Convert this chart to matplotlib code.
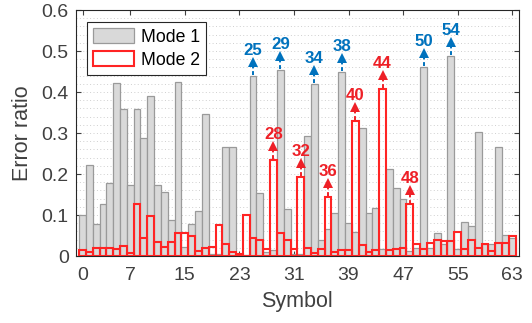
import numpy as np
import matplotlib.pyplot as plt

plt.rcParams['font.family'] = ['Liberation Sans', 'DejaVu Sans']

COLORS = {
    "gray_face": "#D9D9D9",
    "gray_edge": "#9A9A9A",
    "red": "#FF2424",
    "blue": "#0072BD",
    "red_text": "#EE2027",
    "axis": "#404040",
    "grid": "#CFCFCF",
}

symbols = np.arange(64)

mode1 = [0.101, 0.221, 0.078, 0.126, 0.179, 0.421, 0.358, 0.174, 0.359, 0.289,
         0.391, 0.174, 0.157, 0.087, 0.424, 0.023, 0.078, 0.109, 0.346, 0.006,
         0.005, 0.266, 0.266, 0.003, 0.003, 0.440, 0.153, 0.010, 0.015, 0.454,
         0.114, 0.006, 0.004, 0.293, 0.420, 0.038, 0.067, 0.106, 0.450, 0.080,
         0.058, 0.312, 0.105, 0.116, 0.016, 0.213, 0.167, 0.138, 0.012, 0.020,
         0.462, 0.020, 0.055, 0.030, 0.488, 0.016, 0.083, 0.073, 0.302, 0.030,
         0.030, 0.266, 0.052, 0.045]

mode2 = [0.015, 0.009, 0.019, 0.019, 0.019, 0.016, 0.025, 0.007, 0.126, 0.044,
         0.098, 0.033, 0.022, 0.033, 0.057, 0.057, 0.049, 0.011, 0.020, 0.021,
         0.075, 0.029, 0.009, 0.006, 0.101, 0.043, 0.039, 0.018, 0.234, 0.055,
         0.039, 0.016, 0.193, 0.020, 0.007, 0.016, 0.144, 0.010, 0.015, 0.015,
         0.329, 0.026, 0.009, 0.015, 0.407, 0.014, 0.018, 0.020, 0.126, 0.029,
         0.016, 0.032, 0.038, 0.036, 0.036, 0.058, 0.016, 0.038, 0.019, 0.029,
         0.012, 0.032, 0.032, 0.049]

# symbols that get a labelled arrow
peaks_mode1 = [25, 29, 34, 38, 50, 54]
peaks_mode2 = [28, 32, 36, 40, 44, 48]

xticks = [0, 7, 15, 23, 31, 39, 47, 55, 63]
yticks = [0, 0.1, 0.2, 0.3, 0.4, 0.5, 0.6]
yticklabels = ['0', '0.1', '0.2', '0.3', '0.4', '0.5', '0.6']

fig = plt.figure(figsize=(5.32, 3.23), dpi=100)
ax = fig.add_axes([0.1423, 0.2074, 0.8333, 0.7616])

ax.bar(symbols, mode1, width=1.0, color=COLORS["gray_face"],
       edgecolor=COLORS["gray_edge"], linewidth=0.9, label='Mode 1', zorder=2)
ax.bar(symbols, mode2, width=1.0, facecolor='none',
       edgecolor=COLORS["red"], linewidth=1.5, label='Mode 2', zorder=3)


def mark(i, v, color):
    ax.plot([i, i], [v + 0.002, v + 0.027], linestyle=(0, (2, 1.4)),
            linewidth=1.4, color=color, zorder=4)
    ax.plot(i, v + 0.034, marker='^', markersize=6.5, color=color,
            markeredgewidth=0, zorder=4)
    ax.text(i, v + 0.051, str(i), ha='center', va='baseline', fontsize=12.2,
            fontweight='bold', color=color, zorder=5)


for i in peaks_mode1:
    mark(i, mode1[i], COLORS["blue"])
for i in peaks_mode2:
    mark(i, mode2[i], COLORS["red_text"])

ax.set_xlim(-1, 64)
ax.set_ylim(0, 0.6)
ax.set_xticks(xticks)
ax.set_xticklabels([str(t) for t in xticks])
ax.set_yticks(yticks)
ax.set_yticklabels(yticklabels)
ax.set_yticks(np.arange(0, 0.601, 0.02), minor=True)

ax.tick_params(axis='both', which='major', direction='in', length=3.6,
               width=0.8, top=True, right=True, labelsize=14,
               colors=COLORS["axis"], pad=5)
ax.tick_params(axis='y', which='minor', length=0)
ax.tick_params(axis='x', pad=8)

ax.grid(True, axis='y', which='both', linestyle=(0, (1, 2.5)),
        linewidth=0.7, color=COLORS["grid"], zorder=0)
ax.set_axisbelow(True)

for s in ax.spines.values():
    s.set_color('#262626')
    s.set_linewidth(0.8)

ax.set_xlabel('Symbol', fontsize=15.5, color=COLORS["axis"], labelpad=5)
ax.set_ylabel('Error ratio', fontsize=15.5, color=COLORS["axis"], labelpad=6)

leg = ax.legend(loc='upper left', bbox_to_anchor=(0.025, 0.952),
                borderaxespad=0, fontsize=12.7, frameon=True, fancybox=False,
                edgecolor='#262626', framealpha=1, handlelength=2.3,
                handleheight=0.95, handletextpad=0.4, borderpad=0.35,
                labelspacing=0.3)
leg.get_frame().set_linewidth(0.8)

fig.savefig('out.png', dpi=100)
